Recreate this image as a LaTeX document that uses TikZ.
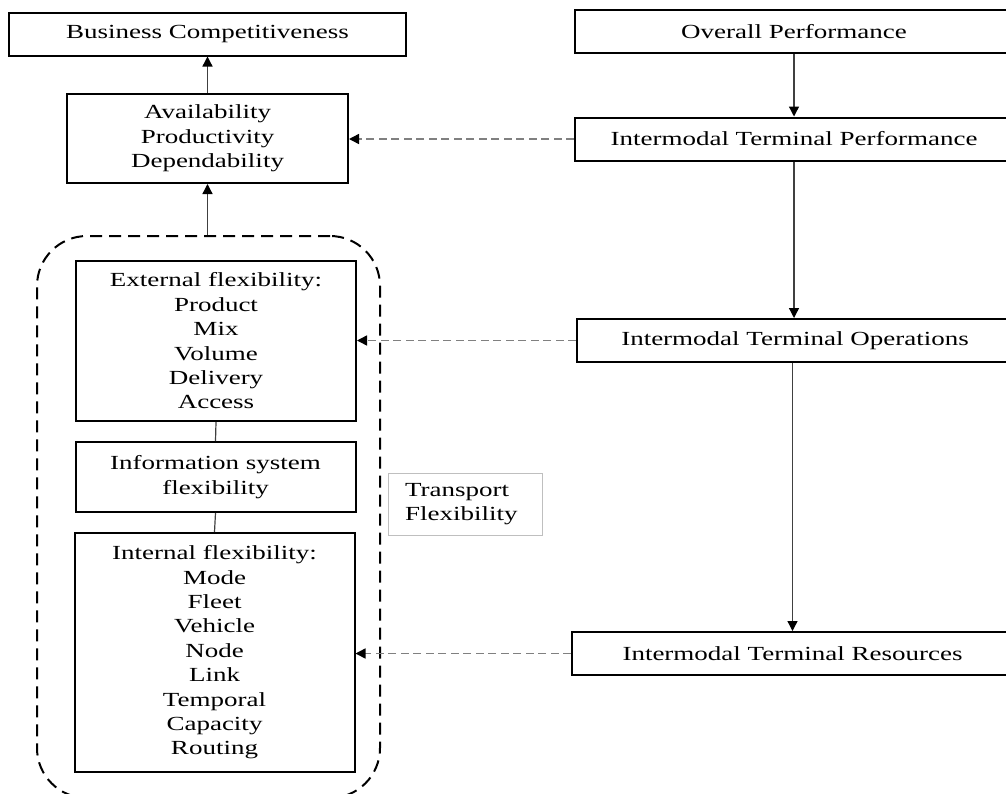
\documentclass[tikz,border=0pt]{standalone}
\usepackage{fontspec}
\setmainfont[FakeStretch=1.35]{Liberation Serif}
\usetikzlibrary{arrows.meta}

\providecommand{\FMfont}{\fontsize{20}{24.4}\selectfont}
\providecommand{\FMtip}{Triangle[length=10pt,width=10pt,color=black]}

\tikzset{
  blk/.style={rectangle, draw=black, line width=2pt, align=center,
              inner sep=0pt, font=\FMfont},
  topbox/.style={blk, minimum height=43pt},
  flexbox/.style={blk, minimum width=280pt},
  group/.style={rectangle, draw=black, line width=2pt,
                dash pattern=on 12pt off 7pt, rounded corners=50pt},
  note/.style={rectangle, draw=black!25, line width=1pt, align=left,
               text width=120pt, inner xsep=17pt, inner ysep=0pt,
               minimum height=62pt, font=\FMfont},
  edge/.style={draw=black!75, line width=1.3pt, -{\FMtip}},
  link/.style={draw=black!75, line width=1.2pt},
  feed/.style={draw=black!50, line width=1.5pt, dash pattern=on 8pt off 4.5pt,
               -{\FMtip}}
}

\begin{document}
\begin{tikzpicture}[x=1pt, y=-1pt]

\useasboundingbox (0,0) rectangle (1006,793);
\clip (0,0) rectangle (1006,793);

% left column
\node (bc) [topbox, minimum width=397pt] at (207.5,34) {Business Competitiveness};

\node (avail) [blk, minimum width=281pt, minimum height=89pt]
    at (207.5,138.5) {Availability\\Productivity\\Dependability};

\node (tflex) [group, minimum width=343pt, minimum height=562pt]
    at (208.5,517) {};

\node (ext) [flexbox, minimum height=160pt] at (216,341)
    {External flexibility:\\Product\\Mix\\Volume\\Delivery\\Access};

\node (info) [flexbox, minimum height=70pt] at (215.5,477)
    {Information system\\flexibility};

\node (int) [flexbox, minimum height=239pt] at (214.5,652.5)
    {Internal flexibility:\\Mode\\Fleet\\Vehicle\\Node\\Link\\Temporal\\Capacity\\Routing};

\node (tlabel) [note] at (465,504) {Transport\\Flexibility};

% right column
\node (op) [topbox, minimum width=438pt] at (794,31.5) {Overall Performance};

\node (itp) [topbox, minimum width=438pt] at (794,139)
    {Intermodal Terminal Performance};

\node (ito) [topbox, minimum width=436pt] at (795,340.5)
    {Intermodal Terminal Operations};

\node (itr) [topbox, minimum width=441pt] at (792.5,653.5)
    {Intermodal Terminal Resources};

% upward arrows
\draw[edge] (avail.north) -- (bc.south);
\draw[edge] (avail.south |- tflex.north) -- (avail.south);

% flexibility chain
\draw[link] (ext.south) -- (info.north);
\draw[link] (info.south) -- (int.north);

% downward arrows
\draw[edge] (op.south) -- (itp.north);
\draw[edge] (itp.south) -- (itp.south |- ito.north);
\draw[edge] (itr.north |- ito.south) -- (itr.north);

% Terminal -> left boxes
\draw[feed] (itp.west) -- (itp.west -| avail.east);
\draw[feed] (ito.west) -- (ito.west -| ext.east);
\draw[feed] (itr.west) -- (itr.west -| int.east);

\end{tikzpicture}
\end{document}
